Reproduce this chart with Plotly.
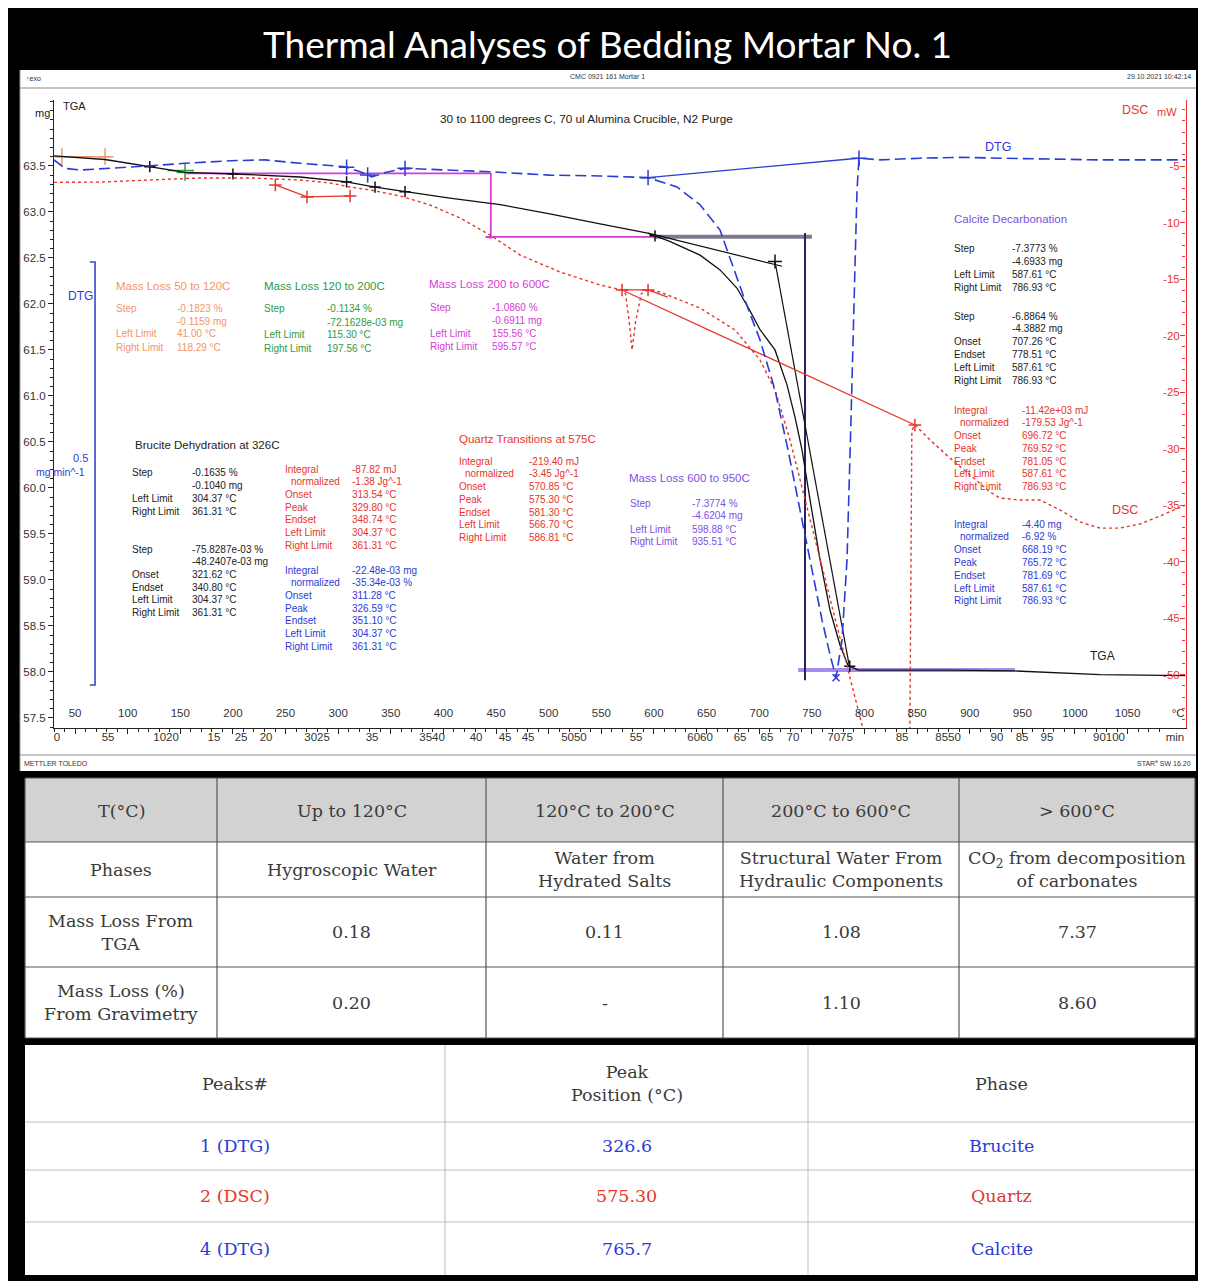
import numpy as np
import plotly.graph_objects as go

# page is drawn with an 8px body margin; figure covers reference pixels 8..1206 x 8..1281
OFF = 8
W, H = 1206 - OFF, 1281 - OFF

# ---------------- data ----------------
# TGA (temperature degC, mass mg)
tga_T = [30, 78.5, 154.5, 206.8, 263.8, 306.5, 335, 363.5, 406, 453.8, 501, 548.8, 594, 615,
         643.8, 662.8, 679, 691, 700.8, 715, 726.4, 734, 740.7, 748.3, 757.8, 767.3, 776.8,
         784.4, 794, 881, 943, 1024, 1105]
tga_mg = [63.61, 63.57, 63.43, 63.41, 63.38, 63.33, 63.27, 63.22, 63.15, 63.08, 62.98, 62.87, 62.77, 62.68,
          62.53, 62.37, 62.17, 61.93, 61.72, 61.50, 61.12, 60.77, 60.41, 59.87, 59.22, 58.67, 58.29,
          58.07, 58.02, 58.02, 58.01, 57.97, 57.96]
# DTG (mg/min)
dtg_T = [30, 40.5, 54.8, 83.3, 121.3, 154.5, 197.3, 230.5, 263.8, 306.5, 320.8, 332, 344.5, 363.5,
         406, 444, 501, 548.8, 594.4, 621.9, 643.8, 662.8, 686.5, 700.8, 715, 727.4, 738.8, 750.2,
         759.7, 767.3, 773, 778.7, 783.4, 787.2, 790.1, 792.9, 794.8, 814.8, 852.8, 890.8, 928.8,
         976.3, 1023.8, 1105]
dtg_v = [0.006, -0.004, -0.006, -0.004, -0.001, 0.002, 0.005, 0.006, 0.002, -0.002, -0.008, -0.014,
         -0.009, -0.004, -0.006, -0.008, -0.012, -0.013, -0.015, -0.026, -0.047, -0.077, -0.160,
         -0.207, -0.266, -0.337, -0.408, -0.479, -0.538, -0.579, -0.606, -0.561, -0.467, -0.301,
         -0.160, -0.030, 0.008, 0.006, 0.008, 0.009, 0.008, 0.007, 0.006, 0.006]
# DSC (mW)
dsc_T = [30, 73.8, 121.3, 168.8, 216.3, 263.8, 292.3, 311.3, 330.3, 358.8, 387.3, 415.8, 444.3,
         472.8, 510.8, 548.8, 569.7, 573, 576.5, 579.2, 582.5, 588, 594.4, 605.8, 643.8, 677, 700.8, 715,
         729.3, 743.5, 757.8, 772, 786.3, 805.3, 843, 845, 847.9, 862.3, 881.3, 900.3, 919.3,
         928.8, 947.8, 966.8, 985.8, 1004.8, 1023.8, 1042.8, 1061.8, 1080.8, 1105]
dsc_mw = [-6.45, -6.42, -6.24, -6.06, -6.06, -6.24, -6.50, -6.86, -7.12, -7.65, -8.45, -9.60, -11.11,
          -12.88, -14.38, -15.53, -15.97, -16.3, -18.8, -21.28, -18.8, -16.3, -15.97, -16.15, -17.57, -19.51,
          -22.17, -24.82, -29.25, -34.56, -39.87, -45.18, -50.49, -57.3, -57.3, -28.4, -27.9,
          -29.25, -30.84, -32.35, -33.85, -34.38, -34.56, -34.56, -35.44, -36.5, -37.04, -37.04,
          -36.68, -35.97, -35.0]

# evaluation helper lines
tga_tan1_T, tga_tan1_mg = [594.4, 721.7], [62.77, 62.41]
tga_tan2_T, tga_tan2_mg = [715, 786], [62.46, 58.04]
step200_T, step200_mg = [155.6, 445, 445, 440, 750], [63.42, 63.42, 62.72, 62.73, 62.73]
step600_top_T, step600_top_mg = [600, 750], [62.73, 62.73]
step600_vert_T, step600_vert_mg = [743.5, 743.5], [62.77, 57.91]
step600_bot_T, step600_bot_mg = [737, 943], [58.02, 58.02]
orange_T, orange_mg = [33, 84], [63.60, 63.60]
orange_marks_T = [37.5, 78.5]
green_T, green_mg = [138, 163], [63.45, 63.45]
green_marks_T = [154.5]
black_marks_T = [121, 200, 308, 335, 363.5, 601, 786]
dtg_marks_T = [308, 328, 363.5, 594.4, 794.8]
dtg_base_T, dtg_base_v = [594.4, 793.9], [-0.015, 0.008]
dtg_min_T, dtg_min_v = [773], [-0.606]
dtg_bar_T, dtg_bar_v = [64, 69, 69, 64], [-0.1147, -0.1147, -0.6147, -0.6147]
dsc_bru_T, dsc_bru_mw = [240.3, 270.4, 311.3], [-6.68, -7.74, -7.65]
dsc_qz_T, dsc_qz_mw = [569.7, 594.4, 613], [-15.97, -15.97, -16.6]
dsc_base_T, dsc_base_mw = [569.7, 847.9], [-15.97, -27.92]
dsc_marks_T = [240.3, 270.4, 311.3, 569.7, 594.4, 847.9]
dsc_marks_mw = [-6.68, -7.74, -7.65, -15.97, -15.97, -27.92]

temp_ticks = list(range(50, 1051, 50))
min_tick_pos = [32.9, 81.4, 136.5, 182, 207.7, 231.5, 279.9, 332.2, 389.2, 431, 458.5, 480.4, 524,
                583, 643.8, 681.8, 707.4, 732.1, 776.8, 835.7, 879.4, 925.9, 949.7, 973.4, 1032.3, 1095]
min_tick_text = ["0", "55", "1020", "15", "25", "20", "3025", "35", "3540", "40", "45", "45", "5050",
                 "55", "6060", "65", "65", "70", "7075", "85", "8550", "90", "85", "95", "90100", "min"]

# tables
t1_header = ["T(°C)", "Up to 120°C", "120°C to 200°C", "200°C to 600°C", "> 600°C"]
t1_phases = ["Phases", "Hygroscopic Water", "Water from<br>Hydrated Salts",
             "Structural Water From<br>Hydraulic Components", "CO<sub>2</sub> from decomposition<br>of carbonates"]
t1_tga = ["Mass Loss From<br>TGA", "0.18", "0.11", "1.08", "7.37"]
t1_grav = ["Mass Loss (%)<br>From Gravimetry", "0.20", "-", "1.10", "8.60"]
t2_header = ["Peaks#", "Peak<br>Position (°C)", "Phase"]
peak_ids = ["1 (DTG)", "2 (DSC)", "4 (DTG)"]
peak_pos = ["326.6", "575.30", "765.7"]
peak_phase = ["Brucite", "Quartz", "Calcite"]

# ---------------- colours ----------------
BLUE = "#2b3bd6"
RED = "#e8342b"
ORANGE = "#f39466"
GREEN = "#2f9a45"
MAGENTA = "#d63bd8"
PURPLE = "#7d4fe3"
TXT = "#222222"
TAB_FONT = "DejaVu Serif"
TAB_SIZE = 17.5
TAB_TXT = "#3a3a3a"
ROW_SIZE = 10
TITLE_SIZE = 11.5

annotations = []
shapes = []


def P(x, y):
    return (x - OFF) / W, 1 - (y - OFF) / H


def txt(x, y, s, color=TXT, size=10, xanchor="left", family="Liberation Sans", yanchor="middle"):
    px, py = P(x, y)
    annotations.append(dict(x=px, y=py, xref="paper", yref="paper", text=s, showarrow=False,
                            xanchor=xanchor, yanchor=yanchor,
                            font=dict(family=family, size=size, color=color)))


def rect(x0, y0, x1, y1, fill, lc=None, lw=0):
    a0, b0 = P(x0, y0)
    a1, b1 = P(x1, y1)
    shapes.append(dict(type="rect", xref="paper", yref="paper", x0=a0, y0=b1, x1=a1, y1=b0,
                       fillcolor=fill, line=dict(color=lc or fill, width=lw), layer="below"))


def line(x0, y0, x1, y1, color, width=1):
    a0, b0 = P(x0, y0)
    a1, b1 = P(x1, y1)
    shapes.append(dict(type="line", xref="paper", yref="paper", x0=a0, y0=b0, x1=a1, y1=b1,
                       line=dict(color=color, width=width), layer="above"))


# ---------------- traces ----------------
fig = go.Figure()


def add(x, y, color, width=1.3, dash="solid", yaxis="y", mode="lines", marker=None):
    fig.add_trace(go.Scatter(x=x, y=y, mode=mode, yaxis=yaxis, hoverinfo="skip",
                             line=dict(color=color, width=width, dash=dash),
                             marker=marker, showlegend=False))


def cross(c, s=9):
    return dict(symbol="cross-thin", size=s, line=dict(color=c, width=1.5), color=c)


# DSC
add(dsc_T, dsc_mw, RED, 1.4, "dot", "y2")
add(dsc_base_T, dsc_base_mw, RED, 1.3, "solid", "y2")
add(dsc_bru_T, dsc_bru_mw, RED, 1.3, "solid", "y2")
add(dsc_qz_T, dsc_qz_mw, RED, 1.3, "solid", "y2")
add(dsc_marks_T, dsc_marks_mw, RED, yaxis="y2", mode="markers", marker=cross(RED))

# step lines on TGA axis
add(step200_T, step200_mg, MAGENTA, 1.8)
add(step600_top_T, step600_top_mg, "#7c7a8c", 4)
add(step600_bot_T, step600_bot_mg, "#a68cec", 4)
add(step600_vert_T, step600_vert_mg, "#2a2060", 2)
add(orange_T, orange_mg, ORANGE, 1.5)
add(orange_marks_T, list(np.interp(orange_marks_T, orange_T, orange_mg)), ORANGE, mode="markers",
    marker=cross(ORANGE, 12))
add(green_T, green_mg, GREEN, 1.5)
add(green_marks_T, list(np.interp(green_marks_T, tga_T, tga_mg)), GREEN, mode="markers",
    marker=cross(GREEN, 12))

# DTG
add(dtg_T, dtg_v, BLUE, 1.6, "11px,5px", "y3")
add(dtg_base_T, dtg_base_v, BLUE, 1.4, "solid", "y3")
add(dtg_marks_T, list(np.interp(dtg_marks_T, dtg_T, dtg_v)), BLUE, yaxis="y3", mode="markers",
    marker=cross(BLUE, 11))
add(dtg_min_T, dtg_min_v, BLUE, yaxis="y3", mode="markers",
    marker=dict(symbol="x-thin", size=7, line=dict(color=BLUE, width=1.5)))
add(dtg_bar_T, dtg_bar_v, "#3d45d0", 1.6, "solid", "y3")

# TGA
add(tga_T, tga_mg, "#111111", 1.3)
add(tga_tan1_T, tga_tan1_mg, "#111111", 1.2)
add(tga_tan2_T, tga_tan2_mg, "#111111", 1.2)
add(black_marks_T, list(np.interp(black_marks_T, tga_T, tga_mg)), "#111111", mode="markers",
    marker=cross("#111111", 8))
add([715], [62.46], "#111111", mode="markers", marker=cross("#111111", 10))

# dummy traces for the extra x axes (time scale, temperature labels)
for xa in ("x2", "x3"):
    fig.add_trace(go.Scatter(x=[500], y=[60], xaxis=xa, mode="markers", marker=dict(opacity=0),
                             hoverinfo="skip", showlegend=False))

# ---------------- background shapes ----------------
rect(20, 70, 1196, 771, "white")
line(20, 88, 1196, 88, "#8a8a8a", 1)
line(20, 755, 1196, 755, "#8a8a8a", 1)
line(20, 70, 20, 771, "#9a9a9a", 1)

# table 1
t1_cols = [25, 217, 486, 723, 959, 1195]
t1_rows = [778, 842, 897, 967, 1038]
rect(25, 778, 1195, 1038, "white")
rect(25, 778, 1195, 842, "#d2d2d2")
for xv in t1_cols:
    line(xv, 778, xv, 1038, "#555555", 1.2)
for yv in t1_rows:
    line(25, yv, 1195, yv, "#555555", 1.2)
rows1 = [t1_header, t1_phases, t1_tga, t1_grav]
for r, row in enumerate(rows1):
    yc = (t1_rows[r] + t1_rows[r + 1]) / 2 + (0 if r else 1)
    for c, s in enumerate(row):
        xc = (t1_cols[c] + t1_cols[c + 1]) / 2
        txt(xc, yc, s, TAB_TXT, TAB_SIZE, "center", TAB_FONT)

# table 2
t2_cols = [25, 445, 808, 1195]
t2_rows = [1045, 1122, 1170, 1222, 1275]
rect(25, 1045, 1195, 1275, "white")
for xv in t2_cols[1:-1]:
    line(xv, 1045, xv, 1275, "#bdbdbd", 1)
for yv in t2_rows[1:-1]:
    line(25, yv, 1195, yv, "#bdbdbd", 1)
peak_colors = [BLUE, RED, BLUE]
for c, s in enumerate(t2_header):
    txt((t2_cols[c] + t2_cols[c + 1]) / 2, (t2_rows[0] + t2_rows[1]) / 2, s, TAB_TXT, TAB_SIZE, "center",
        TAB_FONT)
for r in range(3):
    for c, s in enumerate([peak_ids[r], peak_pos[r], peak_phase[r]]):
        txt((t2_cols[c] + t2_cols[c + 1]) / 2, (t2_rows[r + 1] + t2_rows[r + 2]) / 2, s,
            peak_colors[r], TAB_SIZE, "center", TAB_FONT)

# ---------------- texts ----------------
txt(607, 43, "Thermal Analyses of Bedding Mortar No. 1", "white", 37, "center", "Lato")
txt(24, 78, "\u2191exo", "#333", 7)
txt(607, 77, "CMC 0921 161 Mortar 1", "#333", 7, "center")
txt(1193, 77, "29.10.2021 10:42:14", "#333", 7, "right")
txt(22, 763, "METTLER TOLEDO", "#333", 7)
txt(1193, 763, "STAR<sup>e</sup> SW 16.20", "#333", 7, "right")
txt(586, 119, "30 to 1100 degrees C, 70 ul Alumina Crucible, N2 Purge", TXT, 11.8, "center")
txt(33, 113, "mg", TXT, 11)
txt(61, 106, "TGA", TXT, 11)
txt(1120, 110, "DSC", RED, 12.5)
txt(1155, 112, "mW", RED, 11)
txt(998, 147, "DTG", BLUE, 12.5, "center")
txt(1125, 510, "DSC", RED, 12.5, "center")
txt(1102, 656, "TGA", TXT, 12, "center")
txt(80, 296, "DTG", BLUE, 12, "center")
txt(80, 458, "0.5", BLUE, 11, "center")
txt(60, 472, "mg min^-1", BLUE, 10.5, "center")

block_titles = [
    (114, 286, "Mass Loss 50 to 120C", ORANGE),
    (262, 286, "Mass Loss 120 to 200C", GREEN),
    (427, 284, "Mass Loss 200 to 600C", MAGENTA),
    (133, 445, "Brucite Dehydration at 326C", TXT),
    (457, 439, "Quartz Transitions at 575C", RED),
    (627, 478, "Mass Loss 600 to 950C", PURPLE),
    (952, 219, "Calcite Decarbonation", PURPLE),
]
for x, y, s, c in block_titles:
    txt(x, y, s, c, TITLE_SIZE)

blocks = [
    (114, 175, 308, 13, ORANGE, [("Step", "-0.1823 %"), ("", "-0.1159 mg"), ("Left Limit", "41.00 °C"),
                                  ("Right Limit", "118.29 °C")]),
    (262, 325, 309, 13, GREEN, [("Step", "-0.1134 %"), ("", "-72.1628e-03 mg"), ("Left Limit", "115.30 °C"),
                                 ("Right Limit", "197.56 °C")]),
    (428, 490, 307, 13, MAGENTA, [("Step", "-1.0860 %"), ("", "-0.6911 mg"), ("Left Limit", "155.56 °C"),
                                   ("Right Limit", "595.57 °C")]),
    (130, 190, 473, 12.7, TXT, [("Step", "-0.1635 %"), ("", "-0.1040 mg"), ("Left Limit", "304.37 °C"),
                                 ("Right Limit", "361.31 °C")]),
    (130, 190, 549, 12.7, TXT, [("Step", "-75.8287e-03 %"), ("", "-48.2407e-03 mg"), ("Onset", "321.62 °C"),
                                 ("Endset", "340.80 °C"), ("Left Limit", "304.37 °C"),
                                 ("Right Limit", "361.31 °C")]),
    (283, 350, 469, 12.7, RED, [("Integral", "-87.82 mJ"), ("  normalized", "-1.38 Jg^-1"),
                                 ("Onset", "313.54 °C"), ("Peak", "329.80 °C"), ("Endset", "348.74 °C"),
                                 ("Left Limit", "304.37 °C"), ("Right Limit", "361.31 °C")]),
    (283, 350, 570, 12.7, BLUE, [("Integral", "-22.48e-03 mg"), ("  normalized", "-35.34e-03 %"),
                                  ("Onset", "311.28 °C"), ("Peak", "326.59 °C"), ("Endset", "351.10 °C"),
                                  ("Left Limit", "304.37 °C"), ("Right Limit", "361.31 °C")]),
    (457, 527, 461, 12.8, RED, [("Integral", "-219.40 mJ"), ("  normalized", "-3.45 Jg^-1"),
                                 ("Onset", "570.85 °C"), ("Peak", "575.30 °C"), ("Endset", "581.30 °C"),
                                 ("Left Limit", "566.70 °C"), ("Right Limit", "586.81 °C")]),
    (628, 690, 503, 13, PURPLE, [("Step", "-7.3774 %"), ("", "-4.6204 mg"), ("Left Limit", "598.88 °C"),
                                  ("Right Limit", "935.51 °C")]),
    (952, 1010, 249, 12.7, TXT, [("Step", "-7.3773 %"), ("", "-4.6933 mg"), ("Left Limit", "587.61 °C"),
                                  ("Right Limit", "786.93 °C")]),
    (952, 1010, 316, 12.8, TXT, [("Step", "-6.8864 %"), ("", "-4.3882 mg"), ("Onset", "707.26 °C"),
                                  ("Endset", "778.51 °C"), ("Left Limit", "587.61 °C"),
                                  ("Right Limit", "786.93 °C")]),
    (952, 1020, 410, 12.8, RED, [("Integral", "-11.42e+03 mJ"), ("  normalized", "-179.53 Jg^-1"),
                                  ("Onset", "696.72 °C"), ("Peak", "769.52 °C"), ("Endset", "781.05 °C"),
                                  ("Left Limit", "587.61 °C"), ("Right Limit", "786.93 °C")]),
    (952, 1020, 524, 12.8, BLUE, [("Integral", "-4.40 mg"), ("  normalized", "-6.92 %"),
                                   ("Onset", "668.19 °C"), ("Peak", "765.72 °C"), ("Endset", "781.69 °C"),
                                   ("Left Limit", "587.61 °C"), ("Right Limit", "786.93 °C")]),
]
for xl, xv, y0, dy, c, rows in blocks:
    for i, (lab, val) in enumerate(rows):
        y = y0 + i * dy
        if lab:
            off = 6 if lab.startswith("  ") else 0
            txt(xl + off, y, lab.strip(), c, ROW_SIZE)
        txt(xv, y, val, c, ROW_SIZE)

# ---------------- layout ----------------
x0d, x1d = (54 - OFF) / W, (1185.5 - OFF) / W
y0d, y1d = 1 - (728 - OFF) / H, 1 - (100 - OFF) / H
temp_label_pos = 1 - (704 - OFF) / H
axfont = dict(family="Liberation Sans", size=11.5, color="#333")

fig.update_layout(
    width=W, height=H, margin=dict(l=0, r=0, t=0, b=0),
    paper_bgcolor="black", plot_bgcolor="white",
    showlegend=False,
    xaxis=dict(domain=[x0d, x1d], range=[30, 1105], anchor="y", showgrid=False, zeroline=False,
               showline=True, linecolor="#222", linewidth=1, showticklabels=False,
               tickvals=temp_ticks, ticks="outside", ticklen=5, tickcolor="#222",
               minor=dict(ticks="outside", ticklen=3, dtick=10, tick0=0, tickcolor="#222")),
    xaxis2=dict(overlaying="x", anchor="y", side="bottom", range=[30, 1105], showgrid=False,
                zeroline=False, showline=False, ticks="", tickvals=min_tick_pos, ticktext=min_tick_text,
                tickfont=axfont),
    xaxis3=dict(overlaying="x", anchor="free", position=temp_label_pos, side="bottom", range=[30, 1105],
                showgrid=False, zeroline=False, showline=False, ticks="",
                tickvals=temp_ticks + [1098], ticktext=[str(t) for t in temp_ticks] + ["°C"],
                tickfont=axfont),
    yaxis=dict(domain=[y0d, y1d], range=[57.39, 64.217], anchor="x", showgrid=False, zeroline=False,
               showline=True, linecolor="#222", linewidth=1,
               tickvals=[57.5 + 0.5 * i for i in range(13)],
               ticktext=["%.1f" % (57.5 + 0.5 * i) for i in range(13)],
               ticks="outside", ticklen=5, tickcolor="#222", tickfont=axfont,
               minor=dict(ticks="outside", ticklen=3, dtick=0.1, tick0=57.5, tickcolor="#222")),
    yaxis2=dict(overlaying="y", side="right", anchor="x", range=[-54.73, 0.84], showgrid=False,
                zeroline=False, showline=True, linecolor=RED, linewidth=1.2,
                tickvals=[-5 * i for i in range(1, 11)], ticktext=[str(-5 * i) for i in range(1, 11)],
                ticks="inside", ticklen=5, tickcolor=RED, ticklabelposition="inside",
                tickfont=dict(family="Liberation Sans", size=11.5, color=RED),
                minor=dict(ticks="inside", ticklen=3, dtick=1, tickcolor=RED)),
    yaxis3=dict(overlaying="y", anchor="x", range=[-0.6655, 0.0768], visible=False),
    shapes=shapes,
    annotations=annotations,
)

fig.write_html("out.html")
